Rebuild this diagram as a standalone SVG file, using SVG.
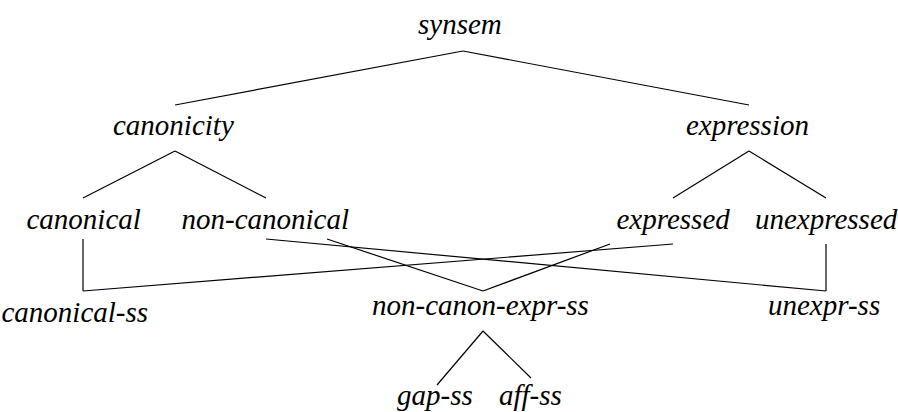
<svg xmlns="http://www.w3.org/2000/svg" width="898" height="412" viewBox="0 0 898 412">
<style>
line{stroke:#000;stroke-width:1.2;fill:none}
</style>
<rect width="898" height="412" fill="#fff"/>
<g id="connectors">
<line x1="463" y1="51" x2="175" y2="105"/>
<line x1="463" y1="51" x2="749" y2="105"/>
<line x1="175" y1="151" x2="83" y2="198"/>
<line x1="175" y1="151" x2="266" y2="198"/>
<line x1="749" y1="151" x2="673" y2="198"/>
<line x1="749" y1="151" x2="826" y2="198"/>
<line x1="83" y1="239" x2="83" y2="291"/>
<line x1="673" y1="244" x2="83" y2="291"/>
<line x1="266" y1="239" x2="826" y2="291"/>
<line x1="826" y1="244" x2="826" y2="291"/>
<line x1="327" y1="239" x2="483" y2="291"/>
<line x1="610" y1="244" x2="483" y2="291"/>
<line x1="483" y1="331" x2="437" y2="385"/>
<line x1="483" y1="331" x2="531" y2="378"/>
</g>
<g id="synsem"><text x="418" y="34" font-family="Liberation Serif" font-style="italic" font-size="29">synsem</text></g>
<g id="canonicity"><text x="113" y="135" font-family="Liberation Serif" font-style="italic" font-size="29">canonicity</text></g>
<g id="expression"><text x="686" y="135" font-family="Liberation Serif" font-style="italic" font-size="29">expression</text></g>
<g id="canonical"><text x="26.5" y="229" font-family="Liberation Serif" font-style="italic" font-size="29">canonical</text></g>
<g id="non-canonical"><text x="181.5" y="229" font-family="Liberation Serif" font-style="italic" font-size="29">non-canonical</text></g>
<g id="expressed"><text x="616.5" y="229" font-family="Liberation Serif" font-style="italic" font-size="29">expressed</text></g>
<g id="unexpressed"><text x="755" y="229" font-family="Liberation Serif" font-style="italic" font-size="29">unexpressed</text></g>
<g id="canonical-ss"><text x="1.5" y="322" font-family="Liberation Serif" font-style="italic" font-size="29">canonical-ss</text></g>
<g id="non-canon-expr-ss"><text x="372" y="315" font-family="Liberation Serif" font-style="italic" font-size="29">non-canon-expr-ss</text></g>
<g id="unexpr-ss"><text x="768" y="315" font-family="Liberation Serif" font-style="italic" font-size="29">unexpr-ss</text></g>
<g id="gap-ss"><text x="397" y="405" font-family="Liberation Serif" font-style="italic" font-size="29">gap-ss</text></g>
<g id="aff-ss"><text x="499" y="405" font-family="Liberation Serif" font-style="italic" font-size="29">aff-ss</text></g>
</svg>
